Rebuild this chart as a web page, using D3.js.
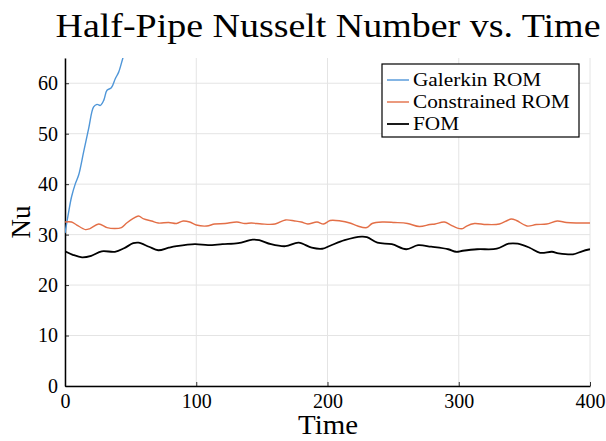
<!DOCTYPE html>
<html>
<head>
<meta charset="utf-8">
<script src="https://cdn.jsdelivr.net/npm/d3@7"></script>
<style>
  body { margin: 0; background: #fff; }
  text { font-family: "Liberation Serif", "DejaVu Serif", serif; fill: #000; }
</style>
</head>
<body>
<script>
// series (time, Nu)
const galerkin = [
  [0, 30.3], [2.8, 34.5], [5, 37.5], [7.9, 40.1], [10.4, 41.8], [14.2, 46.4], [18, 51],
  [21.8, 55.3], [24.4, 55.8], [26.9, 55.6], [29.5, 56.6], [32, 58.6], [35.3, 59.1],
  [38.3, 60.9], [40.9, 62.2], [44, 64.9], [46, 66.5]
];
const constrained = [
  [0, 32.5], [5, 32.5], [9, 31.9], [15.5, 31.0], [19, 31.2], [25.7, 32.1], [32, 31.4],
  [38, 31.2], [43, 31.4], [47, 32.3], [52, 33.2], [56, 33.7], [60, 33.1], [66, 32.7],
  [71, 32.3], [79, 32.4], [85, 32.2], [90, 32.7], [95, 32.5], [100, 31.9], [108, 31.7],
  [114, 32.1], [122, 32.2], [131, 32.5], [137, 32.2], [142, 32.3], [150, 32.1], [160, 32.1],
  [168, 32.9], [175, 32.7], [180, 32.5], [185, 32.1], [192, 32.5], [197, 32.1], [202, 32.8],
  [210, 32.7], [217, 32.3], [223, 31.7], [230, 31.4], [234, 32.2], [242, 32.5], [251, 32.4],
  [261, 32.2], [270, 31.6], [278, 32.0], [282, 32.1], [289, 32.5], [294, 31.9], [299, 31.3],
  [303, 31.2], [306, 31.7], [312, 32.2], [321, 32.0], [331, 32.1], [337, 32.8], [340, 33.1],
  [344, 32.8], [352, 31.7], [359, 32.0], [367, 32.1], [375, 32.7], [382, 32.4], [390, 32.3],
  [400, 32.3]
];
const fom = [
  [0, 26.7], [6, 26.0], [13, 25.5], [20, 25.8], [28, 26.7], [38, 26.6], [45, 27.3],
  [52, 28.3], [56, 28.4], [64, 27.6], [71, 26.9], [79, 27.4], [85, 27.7], [99, 28.1],
  [109, 27.9], [120, 28.1], [132, 28.3], [143, 29.0], [148, 28.9], [157, 28.1], [168, 27.7],
  [178, 28.4], [188, 27.4], [196, 27.2], [202, 27.8], [213, 28.9], [226, 29.6], [230, 29.5],
  [238, 28.4], [249, 28.1], [260, 27.1], [269, 27.9], [279, 27.6], [292, 27.1], [298, 26.6],
  [303, 26.8], [314, 27.1], [329, 27.2], [338, 28.2], [345, 28.2], [354, 27.4], [362, 26.4],
  [371, 26.6], [376, 26.3], [387, 26.1], [394, 26.7], [400, 27.1]
];

const xTicks = [0, 100, 200, 300, 400];
const yTicks = [0, 10, 20, 30, 40, 50, 60];
const seriesNames = ["Galerkin ROM", "Constrained ROM", "FOM"];
const seriesColors = ["#4f96d8", "#e36f47", "#000000"];

const W = 606, H = 441;
const m = {left: 65, right: 590, top: 58, bottom: 386};

const x = d3.scaleLinear().domain([0, 400]).range([m.left, m.right]);
const y = d3.scaleLinear().domain([0, 65]).range([m.bottom, m.top]);

const svg = d3.select("body").append("svg")
    .attr("width", W).attr("height", H);

svg.append("defs").append("clipPath").attr("id", "clip")
  .append("rect").attr("x", m.left).attr("y", m.top)
    .attr("width", m.right - m.left).attr("height", m.bottom - m.top);

// widen Liberation glyphs a bit so they take the room of the original's font
function stretch(sel, k) {
  sel.each(function() {
    const w = this.getComputedTextLength();
    d3.select(this).attr("textLength", w * k).attr("lengthAdjust", "spacingAndGlyphs");
  });
}

// grid
svg.append("g").selectAll("line").data(xTicks).join("line")
    .attr("x1", d => x(d)).attr("x2", d => x(d))
    .attr("y1", m.top).attr("y2", m.bottom)
    .attr("stroke", "#e4e4e4").attr("stroke-width", 1);
svg.append("g").selectAll("line").data(yTicks).join("line")
    .attr("x1", m.left).attr("x2", m.right)
    .attr("y1", d => y(d)).attr("y2", d => y(d))
    .attr("stroke", "#e4e4e4").attr("stroke-width", 1);

// axes
const xAxis = svg.append("g")
    .attr("transform", `translate(0,${m.bottom})`)
    .call(d3.axisBottom(x).tickValues(xTicks).tickSizeInner(-4).tickSizeOuter(0).tickPadding(8));
const yAxis = svg.append("g")
    .attr("transform", `translate(${m.left},0)`)
    .call(d3.axisLeft(y).tickValues(yTicks).tickSizeInner(-4).tickSizeOuter(0).tickPadding(7));
[xAxis, yAxis].forEach(a => {
  a.select(".domain").attr("stroke", "#000").attr("stroke-width", 1.5);
  a.selectAll(".tick line").attr("stroke", "#000").attr("stroke-width", 0.8);
  a.selectAll(".tick text").attr("font-size", 20)
    .attr("font-family", "Liberation Serif, serif").attr("fill", "#000");
});

// lines
const line = d3.line().x(d => x(d[0])).y(d => y(d[1])).curve(d3.curveCatmullRom);
const plot = svg.append("g").attr("clip-path", "url(#clip)");
[galerkin, constrained, fom].forEach((s, i) => {
  plot.append("path").datum(s)
    .attr("fill", "none")
    .attr("stroke", seriesColors[i])
    .attr("stroke-width", i === 2 ? 1.8 : 1.4)
    .attr("stroke-linejoin", "round")
    .attr("d", line);
});

// title and labels
svg.append("text").attr("x", 328).attr("y", 37)
    .attr("text-anchor", "middle").attr("font-size", 33)
    .text("Half-Pipe Nusselt Number vs. Time")
    .call(stretch, 1.15);
svg.append("text").attr("x", 328).attr("y", 434)
    .attr("text-anchor", "middle").attr("font-size", 27)
    .text("Time")
    .call(stretch, 1.07);
svg.append("text")
    .attr("transform", `translate(30,${(m.top + m.bottom) / 2}) rotate(-90)`)
    .attr("text-anchor", "middle").attr("font-size", 27)
    .text("Nu");

// legend
const lg = svg.append("g");
lg.append("rect").attr("x", 382).attr("y", 64).attr("width", 197).attr("height", 73)
    .attr("fill", "#fff").attr("stroke", "#000").attr("stroke-width", 1.2);
seriesNames.forEach((n, i) => {
  const cy = 80 + i * 22;
  lg.append("line").attr("x1", 387).attr("x2", 409).attr("y1", cy).attr("y2", cy)
    .attr("stroke", seriesColors[i]).attr("stroke-width", i === 2 ? 1.8 : 1.4);
  lg.append("text").attr("x", 413).attr("y", cy + 6).attr("font-size", 19).text(n)
    .call(stretch, 1.12);
});
</script>
</body>
</html>
